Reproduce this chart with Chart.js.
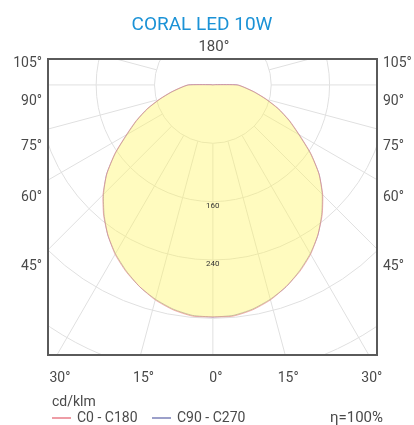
<!DOCTYPE html>
<html>
<head>
<meta charset="utf-8">
<script src="https://cdn.jsdelivr.net/npm/chart.js@4"></script>
<style>
  body { margin: 0; background: #fff; }
  canvas { display: block; }
</style>
</head>
<body>
<canvas id="grafico_polar" width="414" height="425"></canvas>
<script>
// gamma angles (deg from nadir) and intensity in cd/klm
const gamma = [0, 5, 10, 15, 20, 25, 30, 35, 40, 45, 50, 55, 60, 65, 70, 75, 80, 85, 90,
  95, 100, 105, 110, 115, 120, 125, 130, 135, 140, 145, 150, 155, 160, 165, 170, 175, 180];
const c0c180 = [318, 318, 313, 305, 294, 282, 268, 251, 233, 213, 190, 164, 137, 116, 96, 76, 59, 45, 34,
  4, 1, 0, 0, 0, 0, 0, 0, 0, 0, 0, 0, 0, 0, 0, 0, 0, 0];
const c90c270 = [318, 317, 312, 304, 294, 281, 267, 251, 232, 212, 190, 163, 136, 115, 95, 75, 58, 44, 33,
  4, 1, 0, 0, 0, 0, 0, 0, 0, 0, 0, 0, 0, 0, 0, 0, 0, 0];

const rings = [80, 160, 240, 320, 400, 480];
const ringLabels = [160, 240];
const sideAngles = [105, 90, 75, 60, 45];
const bottomAngles = [-30, -15, 0, 15, 30];
const legendLabels = ['C0 - C180', 'C90 - C270'];

const fonte = 'Roboto, "Noto Sans", sans-serif';

// closed curve: one half plane on the right, the other mirrored on the left
function pontosPolares(vals) {
  const pts = [];
  gamma.forEach((g, i) => {
    const a = g * Math.PI / 180;
    pts.push({ x: vals[i] * Math.sin(a), y: -vals[i] * Math.cos(a) });
  });
  for (let i = gamma.length - 1; i >= 0; i--) {
    const a = gamma[i] * Math.PI / 180;
    pts.push({ x: -vals[i] * Math.sin(a), y: -vals[i] * Math.cos(a) });
  }
  return pts;
}

const gradePolar = {
  id: 'gradePolar',
  beforeDatasetsDraw(chart) {
    const { ctx, chartArea: a, scales: { x, y } } = chart;
    const cx = x.getPixelForValue(0), cy = y.getPixelForValue(0);
    const k = x.getPixelForValue(1) - cx;
    ctx.save();
    ctx.beginPath();
    ctx.rect(a.left, a.top, a.right - a.left, a.bottom - a.top);
    ctx.clip();
    ctx.strokeStyle = '#e0e0e0';
    ctx.lineWidth = 1;
    rings.forEach(r => {
      ctx.beginPath();
      ctx.arc(cx, cy, r * k, 0, 2 * Math.PI);
      ctx.stroke();
    });
    for (let g = -180; g < 180; g += 15) {
      const t = g * Math.PI / 180;
      ctx.beginPath();
      ctx.moveTo(cx + rings[0] * k * Math.sin(t), cy + rings[0] * k * Math.cos(t));
      ctx.lineTo(cx + 1000 * Math.sin(t), cy + 1000 * Math.cos(t));
      ctx.stroke();
    }
    ctx.restore();
  },
  afterDatasetsDraw(chart) {
    const { ctx, scales: { x, y } } = chart;
    const cx = x.getPixelForValue(0);
    ctx.save();
    ctx.fillStyle = '#333';
    ctx.font = '8px ' + fonte;
    ctx.textAlign = 'center';
    ctx.textBaseline = 'middle';
    ringLabels.forEach(r => {
      ctx.fillText(String(r), cx, y.getPixelForValue(-r) + 4);
    });
    ctx.restore();
  },
  afterDraw(chart) {
    const { ctx, chartArea: a, scales: { x, y } } = chart;
    const cx = x.getPixelForValue(0), cy = y.getPixelForValue(0);
    ctx.save();
    // moldura
    ctx.strokeStyle = '#5a5a5a';
    ctx.lineWidth = 2;
    ctx.strokeRect(a.left, a.top, a.right - a.left, a.bottom - a.top);

    // titulo
    ctx.fillStyle = '#1b92d6';
    ctx.font = '19px ' + fonte;
    ctx.textAlign = 'center';
    ctx.textBaseline = 'alphabetic';
    ctx.fillText('CORAL LED 10W', 202, 30);

    ctx.fillStyle = '#4a4a4a';
    ctx.font = '15px ' + fonte;
    ctx.textBaseline = 'middle';
    ctx.fillText('180°', cx + 1, 47);

    // angulos laterais
    ctx.font = '14px ' + fonte;
    sideAngles.forEach(g => {
      const t = g * Math.PI / 180;
      const d = (cx - a.left) / Math.sin(t);
      const yy = Math.max(cy + d * Math.cos(t) + 17, a.top + 4);
      ctx.textAlign = 'right';
      ctx.fillText(g + '°', a.left - 6, yy);
      ctx.textAlign = 'left';
      ctx.fillText(g + '°', a.right + 6, yy);
    });

    // angulos embaixo
    ctx.textAlign = 'center';
    bottomAngles.forEach(g => {
      const t = g * Math.PI / 180;
      const xx = cx + (a.bottom - cy) * Math.tan(t);
      ctx.fillText(Math.abs(g) + '°', xx + 3, a.bottom + 23);
    });

    // legenda
    ctx.textAlign = 'left';
    ctx.fillText('cd/klm', 52, 402);
    const cores = ['rgb(232, 124, 136)', 'rgb(123, 128, 184)'];
    let lx = 52;
    legendLabels.forEach((txt, i) => {
      ctx.strokeStyle = cores[i];
      ctx.lineWidth = 1.5;
      ctx.beginPath();
      ctx.moveTo(lx, 418);
      ctx.lineTo(lx + 19, 418);
      ctx.stroke();
      ctx.fillText(txt, lx + 25, 418);
      lx += 100;
    });
    ctx.font = '15px ' + fonte;
    ctx.fillText('η=100%', 330, 418);
    ctx.restore();
  }
};

const data_polar = {
  datasets: [{
    label: legendLabels[0],
    data: pontosPolares(c0c180),
    borderColor: 'rgba(232, 124, 136, 0.55)',
    backgroundColor: 'rgba(255, 246, 95, 0.40)',
    fill: 'shape',
    borderWidth: 1,
    showLine: true,
    tension: 0.2,
    pointRadius: 0
  }, {
    label: legendLabels[1],
    data: pontosPolares(c90c270),
    borderColor: 'rgba(123, 128, 184, 0.7)',
    fill: false,
    borderWidth: 1,
    showLine: true,
    tension: 0.2,
    pointRadius: 0
  }]
};

const config_polar = {
  type: 'scatter',
  data: data_polar,
  options: {
    responsive: false,
    animation: false,
    layout: { padding: { left: 48, right: 37, top: 59, bottom: 70 } },
    plugins: { legend: { display: false }, tooltip: { enabled: false } },
    scales: {
      x: { type: 'linear', min: -226, max: 225, display: false },
      y: { type: 'linear', min: -370, max: 35.5, display: false }
    }
  },
  plugins: [gradePolar]
};

const grafico_polar = new Chart(document.getElementById('grafico_polar'), config_polar);
</script>
</body>
</html>
